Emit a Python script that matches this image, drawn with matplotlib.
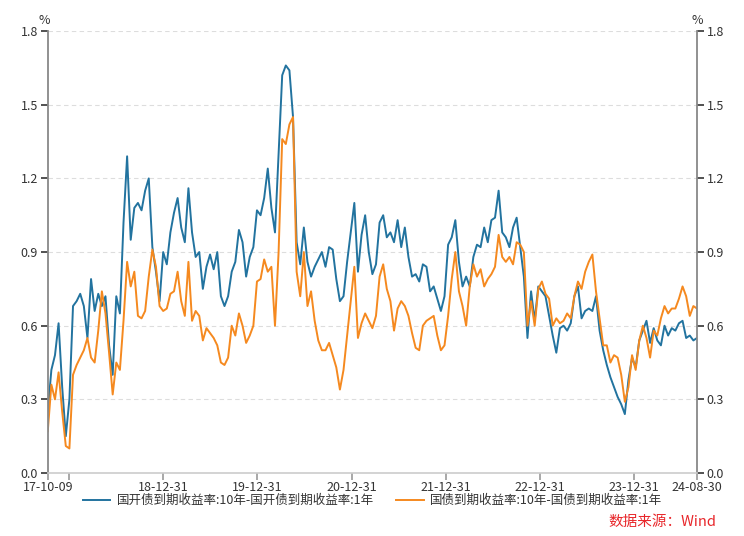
import matplotlib
matplotlib.use('Agg')
import matplotlib.pyplot as plt
import pandas as pd

plt.rcParams['font.family'] = ['Noto Sans CJK SC', 'DejaVu Sans']

# roughly two-week samples
dates = pd.date_range('2017-10-09', '2024-08-30', periods=181)

cdb_spread = [
    0.25, 0.42, 0.48, 0.61, 0.35, 0.15, 0.30, 0.68, 0.70, 0.73,
    0.68, 0.55, 0.79, 0.66, 0.73, 0.68, 0.72, 0.52, 0.40, 0.72,
    0.65, 1.02, 1.29, 0.95, 1.08, 1.10, 1.07, 1.15, 1.20, 0.92,
    0.82, 0.70, 0.90, 0.85, 0.98, 1.06, 1.12, 1.00, 0.94, 1.16,
    0.98, 0.88, 0.90, 0.75, 0.84, 0.89, 0.83, 0.90, 0.72, 0.68,
    0.72, 0.82, 0.86, 0.99, 0.94, 0.80, 0.88, 0.92, 1.07, 1.05,
    1.12, 1.24, 1.08, 0.98, 1.30, 1.62, 1.66, 1.64, 1.45, 0.94,
    0.85, 1.00, 0.86, 0.80, 0.84, 0.87, 0.90, 0.84, 0.92, 0.91,
    0.79, 0.70, 0.72, 0.86, 0.98, 1.10, 0.82, 0.97, 1.05, 0.90,
    0.81, 0.85, 1.02, 1.05, 0.96, 0.98, 0.94, 1.03, 0.92, 1.00,
    0.88, 0.80, 0.81, 0.78, 0.85, 0.84, 0.74, 0.76, 0.71, 0.66,
    0.72, 0.93, 0.96, 1.03, 0.86, 0.76, 0.80, 0.76, 0.88, 0.93,
    0.92, 1.00, 0.94, 1.03, 1.04, 1.15, 0.98, 0.96, 0.92, 1.00,
    1.04, 0.92, 0.80, 0.55, 0.74, 0.62, 0.76, 0.74, 0.72, 0.64,
    0.56, 0.49, 0.59, 0.60, 0.58, 0.61, 0.72, 0.76, 0.63, 0.66,
    0.67, 0.66, 0.72, 0.58, 0.50, 0.44, 0.39, 0.35, 0.31, 0.28,
    0.24, 0.38, 0.47, 0.43, 0.54, 0.58, 0.62, 0.53, 0.59, 0.54,
    0.52, 0.60, 0.56, 0.59, 0.58, 0.61, 0.62, 0.55, 0.56, 0.54,
    0.55,
]

gov_spread = [
    0.17, 0.36, 0.30, 0.41, 0.25, 0.11, 0.10, 0.40, 0.44, 0.47,
    0.50, 0.55, 0.47, 0.45, 0.58, 0.74, 0.65, 0.49, 0.32, 0.45,
    0.42, 0.62, 0.86, 0.76, 0.82, 0.64, 0.63, 0.66, 0.80, 0.91,
    0.84, 0.68, 0.66, 0.67, 0.73, 0.74, 0.82, 0.70, 0.64, 0.86,
    0.62, 0.66, 0.64, 0.54, 0.59, 0.57, 0.55, 0.52, 0.45, 0.44,
    0.47, 0.60, 0.56, 0.65, 0.60, 0.53, 0.56, 0.60, 0.78, 0.79,
    0.87, 0.82, 0.84, 0.60, 0.90, 1.36, 1.34, 1.42, 1.45, 0.82,
    0.72, 0.90, 0.68, 0.74, 0.62, 0.54, 0.50, 0.50, 0.53, 0.48,
    0.43, 0.34, 0.42, 0.56, 0.70, 0.84, 0.55, 0.61, 0.65, 0.62,
    0.59, 0.64, 0.80, 0.85, 0.75, 0.70, 0.58, 0.67, 0.70, 0.68,
    0.64, 0.57, 0.51, 0.50, 0.60, 0.62, 0.63, 0.64, 0.56, 0.50,
    0.52, 0.64, 0.79, 0.90, 0.74, 0.68, 0.60, 0.76, 0.85, 0.80,
    0.83, 0.76, 0.79, 0.81, 0.84, 0.97, 0.88, 0.86, 0.88, 0.85,
    0.94, 0.93, 0.90, 0.60, 0.70, 0.60, 0.75, 0.78, 0.73, 0.71,
    0.60, 0.63, 0.61, 0.62, 0.65, 0.63, 0.72, 0.78, 0.75, 0.82,
    0.86, 0.89, 0.74, 0.63, 0.52, 0.52, 0.45, 0.48, 0.47, 0.40,
    0.29, 0.35, 0.48, 0.42, 0.54, 0.60, 0.55, 0.47, 0.58, 0.56,
    0.63, 0.68, 0.65, 0.67, 0.67, 0.71, 0.76, 0.72, 0.64, 0.68,
    0.67,
]

tick_dates = ['2017-10-09', '2017-12-31', '2018-12-31', '2019-12-31', '2020-12-31',
              '2021-12-31', '2022-12-31', '2023-12-31', '2024-08-30']
tick_labels = ['17-10-09', '', '18-12-31', '19-12-31', '20-12-31',
               '21-12-31', '22-12-31', '23-12-31', '24-08-30']
y_ticks = [0.0, 0.3, 0.6, 0.9, 1.2, 1.5, 1.8]

label_cdb = '国开债到期收益率:10年-国开债到期收益率:1年'
label_gov = '国债到期收益率:10年-国债到期收益率:1年'

fig = plt.figure(figsize=(7.44, 5.36), dpi=100)
ax = fig.add_axes([0.0642, 0.1175, 0.8726, 0.8245])

ax.plot(dates, cdb_spread, color='#22739f', lw=1.4, label=label_cdb)
ax.plot(dates, gov_spread, color='#f5891f', lw=1.4, label=label_gov)

ax.set_xlim(pd.Timestamp('2017-10-09'), pd.Timestamp('2024-08-30'))
ax.set_ylim(0, 1.8)
ax.set_yticks(y_ticks)
ax.set_yticklabels([f'{v:.1f}' for v in y_ticks])
ax.set_xticks(pd.to_datetime(tick_dates))
ax.set_xticklabels(tick_labels)

ax.grid(axis='y', color='#dddddd', ls=(0, (4, 3)), lw=0.8)
ax.set_axisbelow(True)

for side in ['left', 'right']:
    ax.spines[side].set_color('#888888')
    ax.spines[side].set_linewidth(1.3)
ax.spines['bottom'].set_color('#cccccc')
ax.spines['bottom'].set_linewidth(1.2)
ax.spines['top'].set_visible(False)

ax.tick_params(axis='y', left=True, right=True, labelleft=True, labelright=True,
               direction='out', length=5, width=1.2, color='#333333',
               labelsize=9, labelcolor='#333333', pad=2)
ax.tick_params(axis='x', direction='out', length=5, width=1.2, color='#999999',
               labelsize=9, labelcolor='#333333', pad=1)

fig.text(0.060, 0.962, '%', fontsize=9, color='#333333', ha='center', va='center')
fig.text(0.937, 0.962, '%', fontsize=9, color='#333333', ha='center', va='center')

ax.legend(loc='upper center', bbox_to_anchor=(0.5, -0.028), ncol=2, frameon=False,
          fontsize=9, handlelength=2.2, handletextpad=0.5, columnspacing=1.8,
          labelcolor='#333333', borderpad=0.2)

fig.text(0.963, 0.027, '数据来源：Wind', fontsize=10.5, color='#e8262a', ha='right', va='center')

fig.savefig('out.png', dpi=100)
